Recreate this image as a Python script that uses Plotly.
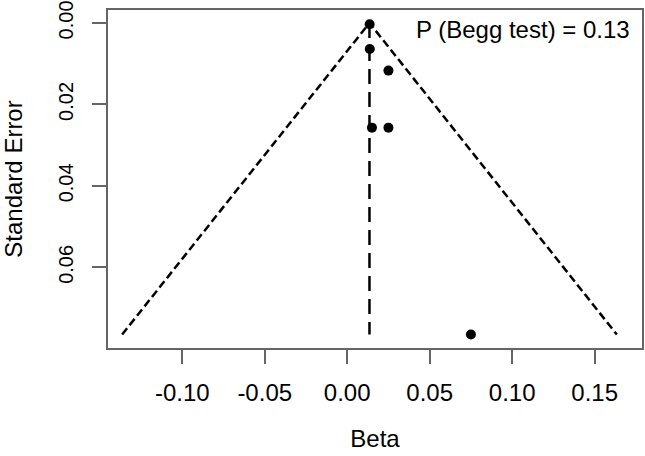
import plotly.graph_objects as go

# Study estimates (Beta) and standard errors
beta = [0.0136, 0.0137, 0.0250, 0.0150, 0.0250, 0.0750]
se = [0.0003, 0.0064, 0.0117, 0.0257, 0.0257, 0.0765]
pooled = 0.0135
se_max = 0.0765
annotation_text = "P (Begg test) = 0.13"
x_ticks = [-0.10, -0.05, 0.00, 0.05, 0.10, 0.15]
x_ticklabels = ["-0.10", "-0.05", "0.00", "0.05", "0.10", "0.15"]
y_ticks = [0.00, 0.02, 0.04, 0.06]
y_ticklabels = ["0.00", "0.02", "0.04", "0.06"]

FONT = "Liberation Sans, Arial, sans-serif"
FS = 24
fig = go.Figure()

# funnel sides
fig.add_trace(go.Scatter(
    x=[pooled - 1.96 * se_max, pooled, pooled + 1.96 * se_max],
    y=[se_max, 0, se_max],
    mode="lines", line=dict(color="black", width=2.5, dash="8px,4px"),
    hoverinfo="skip", showlegend=False))
# pooled estimate line
fig.add_trace(go.Scatter(
    x=[pooled, pooled], y=[0, se_max],
    mode="lines", line=dict(color="black", width=2.5, dash="15px,8px"),
    hoverinfo="skip", showlegend=False))
# study points
fig.add_trace(go.Scatter(
    x=beta, y=se, mode="markers",
    marker=dict(color="black", size=10),
    showlegend=False))

fig.add_annotation(
    x=1, y=1, xref="paper", yref="paper", xanchor="right", yanchor="top",
    xshift=-10, yshift=-4,
    text=annotation_text, showarrow=False,
    font=dict(family=FONT, size=FS, color="black"))

axis_common = dict(
    showgrid=False, zeroline=False, showline=True, mirror=True,
    linecolor="#666666", linewidth=1.5, automargin=False,
    ticks="outside", ticklen=14, tickwidth=1.5, tickcolor="#666666",
    ticklabeloverflow="allow",
    title_font=dict(family=FONT, size=FS, color="black"))

fig.update_xaxes(
    range=[-0.145, 0.1787], tickvals=x_ticks, ticktext=x_ticklabels,
    ticklabelstandoff=8,
    tickfont=dict(family=FONT, size=FS, color="black"),
    title_text="Beta", title_standoff=26, **axis_common)
fig.update_yaxes(
    range=[0.0798, -0.00318], tickvals=y_ticks, ticktext=y_ticklabels,
    tickangle=-90, ticklabelstandoff=11,
    tickfont=dict(family=FONT, size=20, color="black"),
    title_text="Standard Error", title_standoff=37,
    **axis_common)

fig.update_layout(
    width=645, height=456,
    margin=dict(l=108, r=3, t=10, b=108),
    plot_bgcolor="white", paper_bgcolor="white",
    font=dict(family=FONT, size=FS, color="black"))

fig.write_html("out.html")
